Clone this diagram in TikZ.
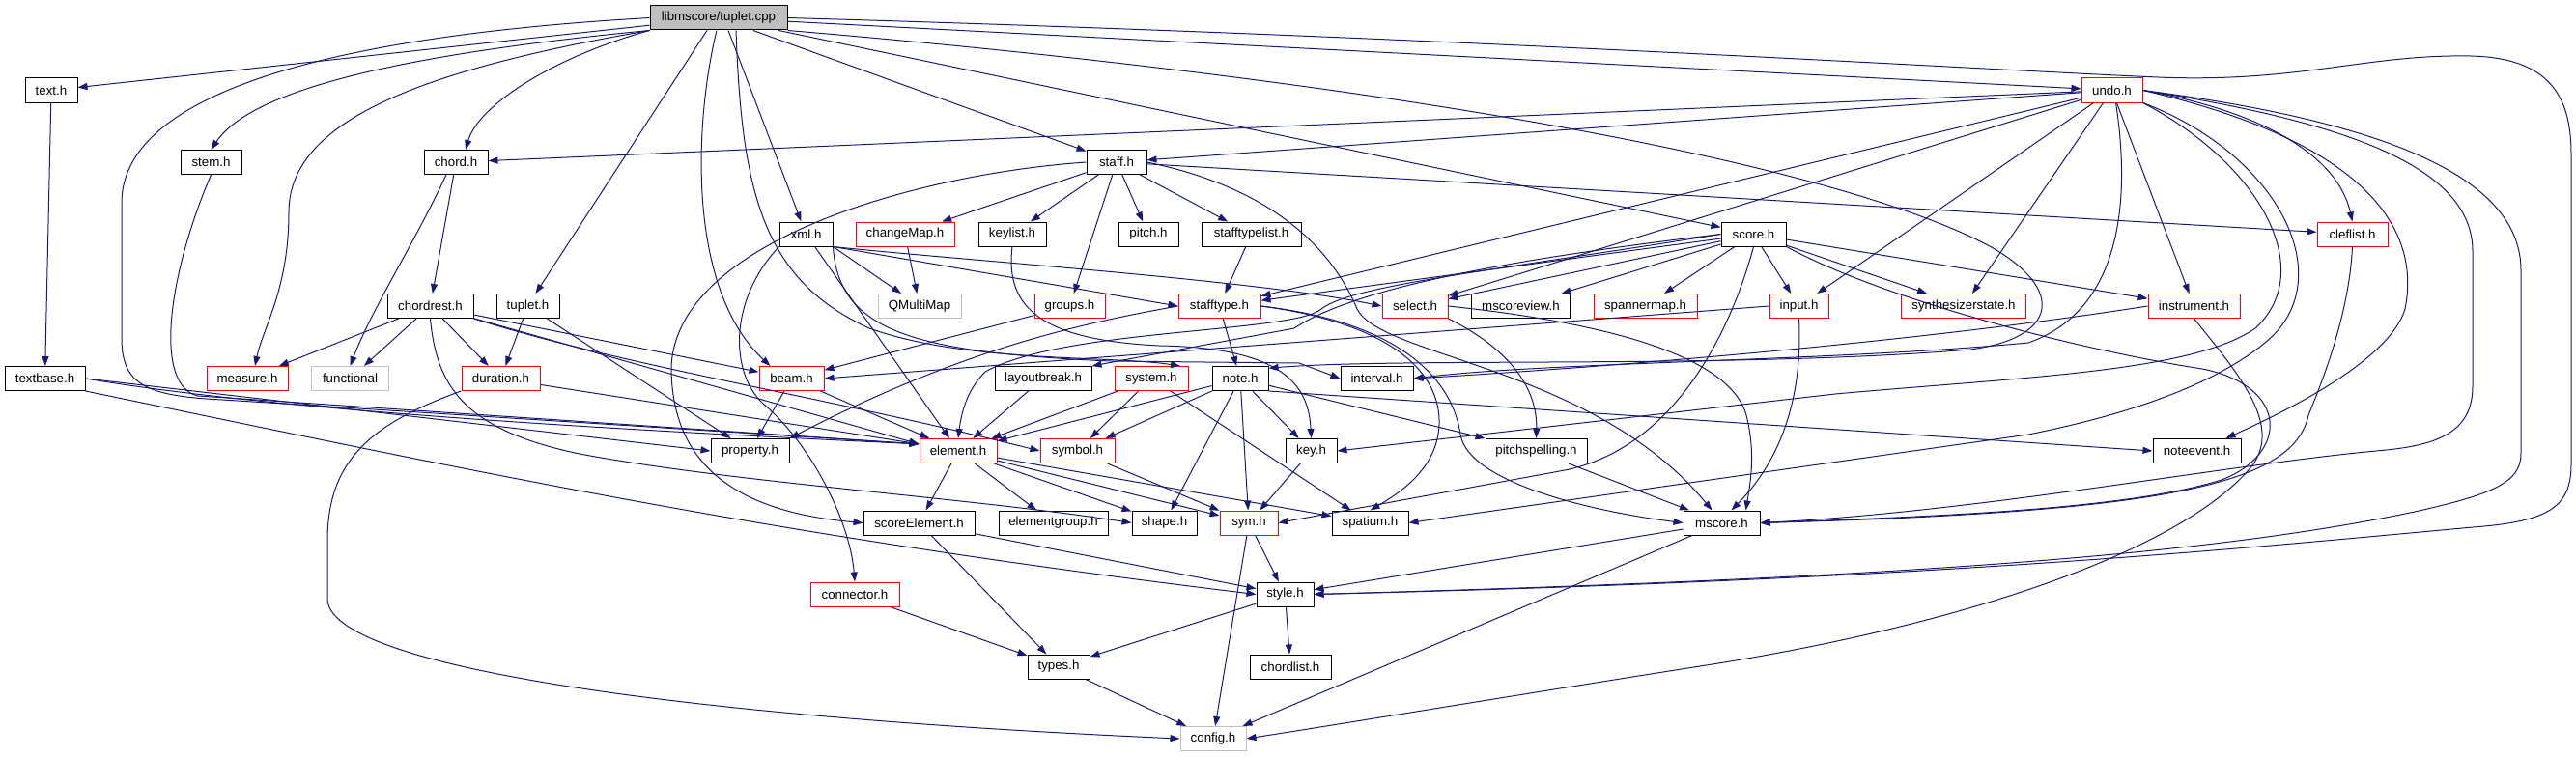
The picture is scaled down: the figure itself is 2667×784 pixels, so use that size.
\documentclass[tikz,border=0pt]{standalone}
\usepackage{fontspec}
\setmainfont{Liberation Sans}
\usetikzlibrary{arrows.meta}
\definecolor{edgec}{HTML}{191970}
\definecolor{gborder}{HTML}{BFBFBF}
\begin{document}
\begin{tikzpicture}[x=1pt,y=-1pt,
  box/.style={draw=black, fill=white, line width=1pt, minimum height=25pt, inner sep=0pt, font=\fontsize{13.3}{15}\selectfont},
  rbox/.style={box, draw=red},
  gbox/.style={box, draw=gborder},
  root/.style={box, fill=gborder},
  e/.style={draw=edgec, line width=1pt, -{Triangle[length=10pt,width=7pt]}}]
\useasboundingbox (0,0) rectangle (2667,784);
% ---------- nodes ----------
\node[root, minimum width=142pt] (cpp) at (744,18.5) {libmscore/tuplet.cpp};
\node[box, minimum width=54pt] (texth) at (53,93.5) {text.h};
\node[rbox, minimum width=63pt] (undo) at (2186.5,93.5) {undo.h};
\node[box, minimum width=63pt] (stem) at (218.5,168) {stem.h};
\node[box, minimum width=66pt] (chord) at (472,168) {chord.h};
\node[box, minimum width=62pt] (staff) at (1156,168) {staff.h};
\node[box, minimum width=55pt] (xml) at (834.5,242.5) {xml.h};
\node[rbox, minimum width=102pt] (changeMap) at (937,242.5) {changeMap.h};
\node[box, minimum width=70pt] (keylist) at (1048,242.5) {keylist.h};
\node[box, minimum width=62pt] (pitch) at (1189,242.5) {pitch.h};
\node[box, minimum width=103pt] (stafftypelist) at (1295.5,242.5) {stafftypelist.h};
\node[box, minimum width=67pt] (score) at (1815.5,242.5) {score.h};
\node[rbox, minimum width=73pt] (cleflist) at (2435.5,242.5) {cleflist.h};
\node[box, minimum width=89pt] (chordrest) at (445.5,317) {chordrest.h};
\node[box, minimum width=65pt] (tupleth) at (546.5,317) {tuplet.h};
\node[gbox, minimum width=86pt] (qmm) at (952,317) {QMultiMap};
\node[rbox, minimum width=73pt] (groups) at (1107.5,317) {groups.h};
\node[rbox, minimum width=85pt] (stafftype) at (1262.5,317) {stafftype.h};
\node[rbox, minimum width=68pt] (select) at (1465,317) {select.h};
\node[box, minimum width=102pt] (mscoreview) at (1574.5,317) {mscoreview.h};
\node[rbox, minimum width=107pt] (spannermap) at (1703.5,317) {spannermap.h};
\node[rbox, minimum width=61pt] (input) at (1862.5,317) {input.h};
\node[rbox, minimum width=129pt] (synth) at (2033,317) {synthesizerstate.h};
\node[rbox, minimum width=95pt] (instrument) at (2271.5,317) {instrument.h};
\node[box, minimum width=83pt] (textbase) at (46.5,392) {textbase.h};
\node[rbox, minimum width=84pt] (measure) at (256,392) {measure.h};
\node[gbox, minimum width=80pt] (functional) at (362.5,392) {functional};
\node[rbox, minimum width=81pt] (duration) at (518.5,392) {duration.h};
\node[rbox, minimum width=67pt] (beam) at (819.5,392) {beam.h};
\node[box, minimum width=100pt] (layoutbreak) at (1080,392) {layoutbreak.h};
\node[rbox, minimum width=76pt] (system) at (1192,392) {system.h};
\node[box, minimum width=58pt] (note) at (1284,392) {note.h};
\node[box, minimum width=75pt] (interval) at (1425.5,392) {interval.h};
\node[box, minimum width=81pt] (property) at (776.5,467) {property.h};
\node[rbox, minimum width=80pt] (element) at (992,467) {element.h};
\node[rbox, minimum width=77pt] (symbol) at (1115.5,467) {symbol.h};
\node[box, minimum width=53pt] (key) at (1357.5,467) {key.h};
\node[box, minimum width=105pt] (pitchspelling) at (1590.5,467) {pitchspelling.h};
\node[box, minimum width=91pt] (noteevent) at (2274.5,467) {noteevent.h};
\node[box, minimum width=115pt] (scoreElement) at (951.5,541.5) {scoreElement.h};
\node[box, minimum width=113pt] (elementgroup) at (1090.5,541.5) {elementgroup.h};
\node[box, minimum width=67pt] (shape) at (1205.5,541.5) {shape.h};
\node[rbox, minimum width=60pt] (sym) at (1293,541.5) {sym.h};
\node[box, minimum width=79pt] (spatium) at (1418.5,541.5) {spatium.h};
\node[box, minimum width=79pt] (mscore) at (1782.5,541.5) {mscore.h};
\node[rbox, minimum width=92pt] (connector) at (885,615.5) {connector.h};
\node[box, minimum width=59pt] (style) at (1330.5,615.5) {style.h};
\node[box, minimum width=64pt] (types) at (1096,690.5) {types.h};
\node[box, minimum width=84pt] (chordlist) at (1336,690.5) {chordlist.h};
\node[gbox, minimum width=68pt] (config) at (1256,765) {config.h};
% ---------- edges from tuplet.cpp ----------
\draw[e] (cpp) -- (texth);
\draw[e] (cpp.south west) .. controls (430,55) and (262,90) .. (stem.north);
\draw[e] (cpp.west) .. controls (330,38) and (126,100) .. (126,210) -- (126,350) .. controls (126,398) and (150,410) .. (230,414) -- (element.170);
\draw[e] (cpp.south west) .. controls (420,75) and (299,130) .. (299,220) .. controls (299,300) and (272,340) .. ([xshift=8pt]measure.north);
\draw[e] (cpp.south west) .. controls (570,60) and (495,110) .. ([xshift=10pt]chord.north);
\draw[e] ([xshift=-12pt]cpp.south) -- ([xshift=8pt]tupleth.north);
\draw[e] ([xshift=-2pt]cpp.south) .. controls (718,130) and (712,300) .. ([xshift=-22pt]beam.north);
\draw[e] ([xshift=10pt]cpp.south) -- ([xshift=-5pt]xml.north);
\draw[e] ([xshift=18pt]cpp.south) .. controls (768,200) and (790,290) .. (900,340) .. controls (1000,376) and (1150,368) .. ([xshift=30pt]system.north);
\draw[e] (cpp) -- (staff);
\draw[e] (cpp) -- (score);
\draw[e] (cpp) -- (undo);
\draw[e] (cpp.east) .. controls (1500,38) and (2050,72) .. (2234,80) .. controls (2380,86) and (2450,56) .. (2558,58) .. controls (2640,60) and (2662,100) .. (2662,160) -- (2662,480) .. controls (2662,525) and (2640,540) .. (2560,546) .. controls (2300,570) and (2000,600) .. (style.east);
\draw[e] (cpp.south east) .. controls (1450,85) and (1900,170) .. (2060,255) .. controls (2140,300) and (2130,350) .. (2040,362) .. controls (1800,382) and (1450,370) .. (note.20);
% ---------- undo.h ----------
\draw[e] (undo) -- (chord);
\draw[e] (undo) -- (staff);
\draw[e] (undo) -- (stafftype);
\draw[e] (undo) -- (select);
\draw[e] (undo) -- (input);
\draw[e] (undo) -- (synth);
\draw[e] (undo) -- (instrument);
\draw[e] (undo.east) .. controls (2340,115) and (2420,160) .. (cleflist.north);
\draw[e] ([xshift=4pt]undo.south) .. controls (2205,200) and (2200,320) .. (2100,355) .. controls (1900,374) and (1600,375) .. (interval.east);
\draw[e] (undo.south east) .. controls (2340,170) and (2400,280) .. (2335,340) .. controls (2270,385) and (2100,390) .. (1900,408) -- (key.east);
\draw[e] (undo.south east) .. controls (2360,160) and (2425,290) .. (2345,355) .. controls (2290,400) and (2200,430) .. (2100,450) -- (spatium.east);
\draw[e] (undo.east) .. controls (2420,140) and (2510,220) .. (2490,320) .. controls (2475,370) and (2380,420) .. ([xshift=30pt]noteevent.north);
\draw[e] (undo.east) .. controls (2420,125) and (2560,170) .. (2560,260) -- (2560,400) .. controls (2560,450) and (2520,462) .. (2460,467) .. controls (2300,482) and (2050,530) .. (mscore.east);
\draw[e] (undo.east) .. controls (2460,125) and (2610,180) .. (2610,280) -- (2610,470) .. controls (2610,500) and (2580,512) .. (2500,530) .. controls (2300,572) and (2000,598) .. (style.east);
% ---------- score.h ----------
\draw[e] (score) -- (mscoreview);
\draw[e] (score) -- (spannermap);
\draw[e] (score) -- (input);
\draw[e] (score) -- (synth);
\draw[e] (score) -- (instrument);
\draw[e] (score) -- (select);
\draw[e] (score) -- (stafftype);
\draw[e] (score.west) .. controls (1550,270) and (1400,300) .. (1340,340) -- (layoutbreak.north east);
\draw[e] (score.west) .. controls (1550,280) and (1400,295) .. (1368,320) .. controls (1340,345) and (1100,340) .. (1020,385) .. controls (1000,405) and (995,430) .. (element.north);
\draw[e] (score.south) .. controls (1790,350) and (1730,465) .. (1620,487) -- (sym.east);
\draw[e] (score.south east) .. controls (1950,310) and (2150,362) .. (2280,382) .. controls (2370,400) and (2370,470) .. (2300,497) .. controls (2200,528) and (2000,535) .. (mscore.east);
% ---------- staff.h ----------
\draw[e] (staff) -- (changeMap);
\draw[e] (staff) -- (keylist);
\draw[e] (staff) -- (pitch);
\draw[e] (staff) -- (stafftypelist);
\draw[e] (staff) -- (groups);
\draw[e] (staff) -- (cleflist);
\draw[e] (staff.west) .. controls (950,180) and (700,250) .. (695,380) .. controls (695,480) and (760,530) .. (scoreElement.west);
\draw[e] (staff.east) .. controls (1320,195) and (1380,260) .. (1405,320) .. controls (1430,370) and (1650,380) .. ([xshift=-10pt]mscore.north);
% ---------- chord / chordrest / tuplet / text ----------
\draw[e] (chord) -- (chordrest);
\draw[e] ([xshift=-10pt]chord.south) .. controls (430,250) and (385,320) .. (functional.north);
\draw[e] (chordrest) -- (measure);
\draw[e] (chordrest) -- (functional);
\draw[e] (chordrest) -- (duration);
\draw[e] (chordrest) -- (beam);
\draw[e] (chordrest) -- (element.170);
\draw[e] (chordrest.south east) .. controls (650,380) and (850,410) .. (symbol.west);
\draw[e] (chordrest.south) .. controls (452,400) and (480,445) .. (600,470) .. controls (760,500) and (1000,515) .. (shape.west);
\draw[e] (tupleth) -- (duration);
\draw[e] (tupleth) -- (property);
\draw[e] (texth) -- (textbase);
\draw[e] (textbase.east) -- (property.west);
\draw[e] (textbase.east) .. controls (300,428) and (700,448) .. (element.170);
\draw[e] (textbase.south east) .. controls (500,490) and (800,555) .. (style.west);
\draw[e] (stem.south) .. controls (172,290) and (160,400) .. (205,410) -- (element.170);
% ---------- duration / beam ----------
\draw[e] (duration) -- (element.170);
\draw[e] (duration.south west) .. controls (380,440) and (339,480) .. (339,560) -- (339,620) .. controls (339,690) and (700,742) .. (config.west);
\draw[e] (beam) -- (property);
\draw[e] (beam) -- (element);
% ---------- xml.h ----------
\draw[e] (xml.south east) -- (qmm);
\draw[e] (xml.south east) -- (stafftype.west);
\draw[e] (xml.south east) .. controls (1000,270) and (1300,290) .. (select.west);
\draw[e] (xml) -- (element);
\draw[e] (xml.south west) .. controls (755,310) and (755,385) .. (790,418) .. controls (840,460) and (880,540) .. (connector.north);
\draw[e] (xml.south east) .. controls (868,345) and (950,365) .. (1150,374) -- (1345,376) -- (interval.west);
% ---------- middle headers ----------
\draw[e] (changeMap) -- (qmm);
\draw[e] (keylist.south) .. controls (1040,320) and (1080,352) .. (1200,358) .. controls (1330,360) and (1355,400) .. (key.north);
\draw[e] (stafftypelist) -- (stafftype);
\draw[e] (groups) -- (beam);
\draw[e] (stafftype) -- (note);
\draw[e] (stafftype.west) .. controls (1120,335) and (1000,360) .. (property.north east);
\draw[e] (stafftype.east) .. controls (1440,335) and (1492,385) .. (1490,440) .. controls (1488,485) and (1450,510) .. (spatium.north);
\draw[e] (stafftype.east) .. controls (1460,335) and (1505,400) .. (1512,450) .. controls (1520,500) and (1650,530) .. (mscore.west);
\draw[e] (select.south east) .. controls (1560,360) and (1592,400) .. (pitchspelling.north);
\draw[e] (select.east) .. controls (1650,333) and (1790,365) .. (1808,430) .. controls (1818,470) and (1812,500) .. ([xshift=25pt]mscore.north);
\draw[e] (input.south) .. controls (1866,400) and (1850,470) .. ([xshift=10pt]mscore.north);
\draw[e] (input.west) -- (beam.east);
\draw[e] (instrument.west) .. controls (2000,352) and (1700,378) .. (interval.east);
\draw[e] (instrument.south) .. controls (2320,390) and (2362,440) .. (2332,482) .. controls (2265,565) and (2050,645) .. (1760,690) .. controls (1600,715) and (1400,748) .. (config.east);
\draw[e] (cleflist.south) .. controls (2432,330) and (2400,405) .. (2390,430) .. controls (2375,500) and (2250,530) .. (mscore.east);
\draw[e] (layoutbreak) -- (element);
\draw[e] (system) -- (element);
\draw[e] (system) -- (symbol);
\draw[e] (system) -- (spatium);
\draw[e] (note) -- (element);
\draw[e] (note) -- (symbol);
\draw[e] (note) -- (shape);
\draw[e] (note) -- (sym);
\draw[e] (note) -- (key);
\draw[e] (note) -- (pitchspelling);
\draw[e] (note.south east) -- (noteevent.west);
% ---------- lower headers ----------
\draw[e] (element) -- (scoreElement);
\draw[e] (element) -- (elementgroup);
\draw[e] (element) -- (shape);
\draw[e] (element) -- (sym);
\draw[e] (element) -- (spatium);
\draw[e] (symbol) -- (sym);
\draw[e] (key) -- (sym);
\draw[e] (pitchspelling) -- (mscore);
\draw[e] (scoreElement) -- (types);
\draw[e] (scoreElement) -- (style);
\draw[e] (sym) -- (style);
\draw[e] (sym) -- (config);
\draw[e] (mscore) -- (style);
\draw[e] (mscore) -- (config);
\draw[e] (connector) -- (types);
\draw[e] (style) -- (types);
\draw[e] (style) -- (chordlist);
\draw[e] (types) -- (config);
\end{tikzpicture}
\end{document}
